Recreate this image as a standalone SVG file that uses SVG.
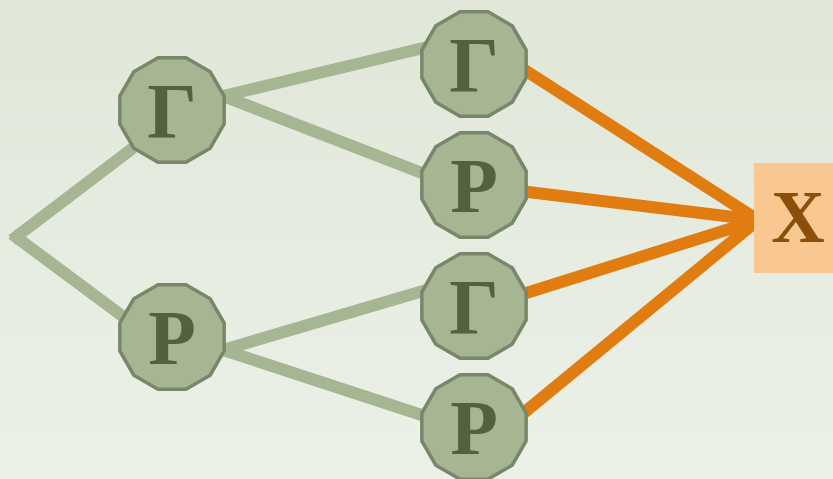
<svg xmlns="http://www.w3.org/2000/svg" xmlns:xlink="http://www.w3.org/1999/xlink" width="833" height="479" viewBox="0 0 833 479">
  <defs>
    <linearGradient id="bg" x1="0" y1="0" x2="0" y2="1">
      <stop offset="0" stop-color="#e0e7d8"/>
      <stop offset="1" stop-color="#ecf1e8"/>
    </linearGradient>
    <!-- twelve-sided node outline, flat top -->
    <polygon id="dodeca" points="52.16,13.98 38.18,38.18 13.98,52.16 -13.98,52.16 -38.18,38.18 -52.16,13.98 -52.16,-13.98 -38.18,-38.18 -13.98,-52.16 13.98,-52.16 38.18,-38.18 52.16,-13.98"/>
  </defs>
  <style>
    .branch { stroke: #a6b592; stroke-width: 12; fill: none; }
    .path { stroke: #e07c10; stroke-width: 12; fill: none; }
    .node use { fill: #a6b592; stroke: #78876a; stroke-width: 3.5; }
    .node text { font-family: "Liberation Serif", "Times New Roman", serif; font-weight: bold; font-size: 78px; fill: #546140; text-anchor: middle; }
    .target text { font-family: "Liberation Serif", "Times New Roman", serif; font-weight: bold; font-size: 74px; fill: #8b4f0a; text-anchor: middle; }
  </style>

  <rect width="833" height="479" fill="url(#bg)"/>

  <g id="connectors">
    <line class="branch" x1="12" y1="240" x2="133" y2="148"/>
    <line class="branch" x1="12" y1="234" x2="125" y2="318"/>
    <line class="branch" x1="223" y1="96" x2="440" y2="44"/>
    <line class="branch" x1="223" y1="96" x2="440" y2="180"/>
    <line class="branch" x1="223" y1="350" x2="440" y2="286"/>
    <line class="branch" x1="223" y1="350" x2="440" y2="421"/>
    <line class="path" x1="520" y1="67" x2="758" y2="220"/>
    <line class="path" x1="520" y1="191" x2="758" y2="220"/>
    <line class="path" x1="520" y1="295" x2="758" y2="220"/>
    <line class="path" x1="520" y1="416" x2="758" y2="220"/>
  </g>

  <g id="n1" class="node"><use xlink:href="#dodeca" transform="translate(172,110)"/><text x="172" y="137">Γ</text></g>
  <g id="n2" class="node"><use xlink:href="#dodeca" transform="translate(172,337)"/><text x="172" y="364">P</text></g>
  <g id="n3" class="node"><use xlink:href="#dodeca" transform="translate(474,64)"/><text x="474" y="91">Γ</text></g>
  <g id="n4" class="node"><use xlink:href="#dodeca" transform="translate(474,185)"/><text x="474" y="212">P</text></g>
  <g id="n5" class="node"><use xlink:href="#dodeca" transform="translate(474,306)"/><text x="474" y="333">Γ</text></g>
  <g id="n6" class="node"><use xlink:href="#dodeca" transform="translate(474,427)"/><text x="474" y="454">P</text></g>

  <g id="x" class="target">
    <rect x="754" y="163" width="90" height="110" fill="#f8c890"/>
    <text x="798" y="242">X</text>
  </g>
</svg>
